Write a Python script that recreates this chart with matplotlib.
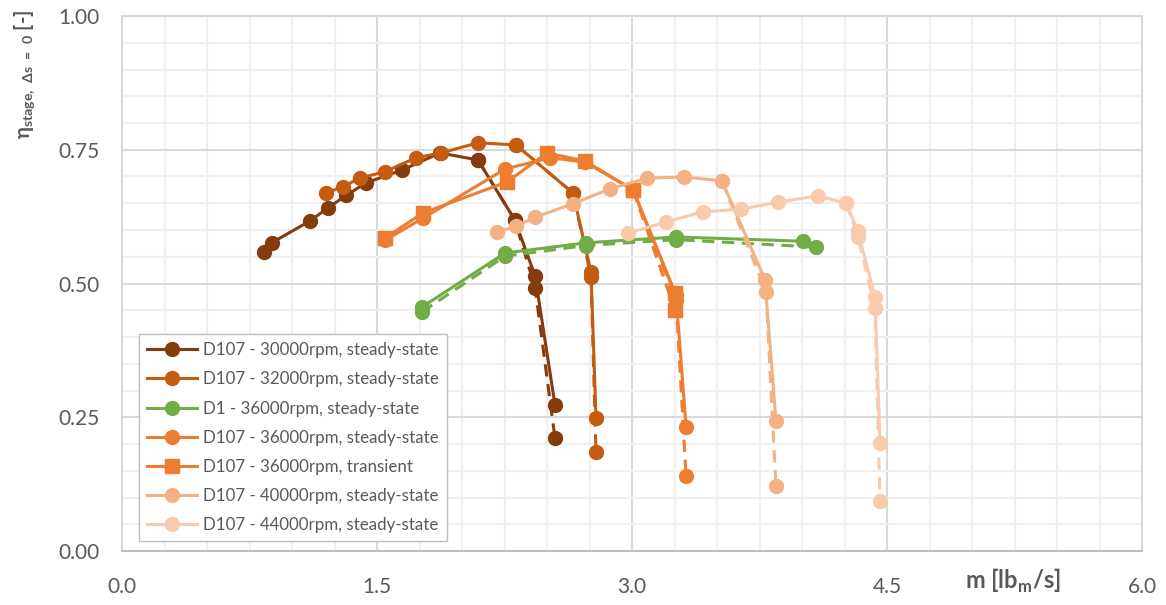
import numpy as np
import matplotlib
matplotlib.use("Agg")
import matplotlib.pyplot as plt

plt.rcParams['font.family'] = ['Lato', 'DejaVu Sans']
plt.rcParams['mathtext.fontset'] = 'custom'
plt.rcParams['mathtext.rm'] = 'Lato'
plt.rcParams['mathtext.bf'] = 'Lato:bold'

# D107 - 30000rpm
m_30 = [0.835, 0.88, 1.106, 1.21, 1.32, 1.435, 1.647, 1.87, 2.094, 2.31, 2.43, 2.547]
eta_30 = [0.559, 0.576, 0.617, 0.641, 0.665, 0.688, 0.712, 0.744, 0.731, 0.619, 0.514, 0.273]
m_30_d = [2.094, 2.31, 2.43, 2.547]
eta_30_d = [0.731, 0.619, 0.492, 0.211]

# D107 - 32000rpm
m_32 = [1.2, 1.3, 1.4, 1.547, 1.729, 1.876, 2.094, 2.318, 2.653, 2.759, 2.788]
eta_32 = [0.669, 0.681, 0.697, 0.709, 0.735, 0.744, 0.763, 0.759, 0.669, 0.521, 0.249]
m_32_d = [2.318, 2.653, 2.759, 2.788]
eta_32_d = [0.759, 0.669, 0.512, 0.185]

# D1 - 36000rpm
m_d1 = [1.765, 2.253, 2.729, 3.259, 4.006]
eta_d1 = [0.456, 0.557, 0.576, 0.587, 0.579]
m_d1_d = [1.765, 2.253, 2.729, 3.259, 4.082]
eta_d1_d = [0.447, 0.551, 0.571, 0.582, 0.568]

# D107 - 36000rpm steady-state
m_36 = [1.547, 1.771, 2.253, 2.518, 2.724, 3.006, 3.259, 3.318]
eta_36 = [0.581, 0.622, 0.714, 0.735, 0.727, 0.675, 0.478, 0.232]
m_36_d = [3.006, 3.259, 3.318]
eta_36_d = [0.675, 0.469, 0.140]

# D107 - 36000rpm transient
m_36t = [1.547, 1.771, 2.265, 2.5, 2.724, 3.006, 3.253]
eta_36t = [0.585, 0.632, 0.690, 0.744, 0.729, 0.675, 0.482]
m_36t_d = [3.006, 3.253]
eta_36t_d = [0.675, 0.450]

# D107 - 40000rpm
m_40 = [2.206, 2.318, 2.43, 2.653, 2.871, 3.088, 3.306, 3.529, 3.782, 3.847]
eta_40 = [0.596, 0.607, 0.624, 0.649, 0.677, 0.697, 0.699, 0.692, 0.507, 0.243]
m_40_d = [3.529, 3.788, 3.847]
eta_40_d = [0.692, 0.484, 0.121]

# D107 - 44000rpm
m_44 = [2.976, 3.2, 3.418, 3.641, 3.859, 4.094, 4.259, 4.329, 4.429, 4.459]
eta_44 = [0.594, 0.615, 0.634, 0.639, 0.652, 0.664, 0.650, 0.598, 0.475, 0.202]
m_44_d = [4.259, 4.329, 4.429, 4.459]
eta_44_d = [0.650, 0.587, 0.454, 0.093]

series = [
    ("D107 - 30000rpm, steady-state", m_30, eta_30, m_30_d, eta_30_d, '#843C0C', 'o'),
    ("D107 - 32000rpm, steady-state", m_32, eta_32, m_32_d, eta_32_d, '#C55A11', 'o'),
    ("D1 - 36000rpm, steady-state", m_d1, eta_d1, m_d1_d, eta_d1_d, '#70AD47', 'o'),
    ("D107 - 36000rpm, steady-state", m_36, eta_36, m_36_d, eta_36_d, '#ED7D31', 'o'),
    ("D107 - 36000rpm, transient", m_36t, eta_36t, m_36t_d, eta_36t_d, '#ED7D31', 's'),
    ("D107 - 40000rpm, steady-state", m_40, eta_40, m_40_d, eta_40_d, '#F4B183', 'o'),
    ("D107 - 44000rpm, steady-state", m_44, eta_44, m_44_d, eta_44_d, '#F8CBAD', 'o'),
]

fig = plt.figure(figsize=(11.66, 6.05), dpi=100)
ax = fig.add_axes([122/1166, 54/605, 1020/1166, 535/605])

handles = []
for name, x, y, xd, yd, c, mk in series:
    ms = 10 if mk == 'o' else 9.5
    ax.plot(xd, yd, color=c, lw=2.2, ls=(0, (4, 2.5)), marker=mk, ms=ms, zorder=3)
    h, = ax.plot(x, y, color=c, lw=2.2, marker=mk, ms=ms, label=name, zorder=3)
    handles.append(h)

ax.set_xlim(0, 6)
ax.set_ylim(0, 1)
ax.set_xticks(np.arange(0, 6.01, 1.5))
ax.set_xticks(np.arange(0, 6.01, 0.25), minor=True)
ax.set_yticks(np.arange(0, 1.01, 0.25))
ax.set_yticks(np.arange(0, 1.01, 0.05), minor=True)
ax.set_xticklabels(['%.1f' % v for v in np.arange(0, 6.01, 1.5)])
ax.set_yticklabels(['%.2f' % v for v in np.arange(0, 1.01, 0.25)])
ax.grid(which='major', color='#D9D9D9', lw=1.5, zorder=0)
ax.grid(which='minor', color='#F0F0F0', lw=1.5, zorder=0)
ax.set_axisbelow(True)
ax.tick_params(which='both', length=0, labelsize=15, labelcolor='#595959')
ax.tick_params(axis='x', pad=19)
ax.tick_params(axis='y', pad=16)
for s in ax.spines.values():
    s.set_color('#D9D9D9')
    s.set_linewidth(1.5)
ax.spines['bottom'].set_color('#BFBFBF')

leg = ax.legend(handles=handles, loc='lower left', bbox_to_anchor=(0.0167, 0.0187),
                borderaxespad=0, fontsize=12.2, handlelength=3.0, labelspacing=0.78,
                fancybox=False, framealpha=1, edgecolor='#BFBFBF', borderpad=0.45,
                handletextpad=0.35)
for t in leg.get_texts():
    t.set_color('#595959')

fig.text(1013/1166, 1 - 581/605, r'm [lb$_\mathbf{m}$/s]', ha='center', va='center',
         fontsize=17, fontweight='bold', color='#595959')
fig.text(25/1166, 1 - 74/605, r'η$_\mathbf{stage,\ Δs\ =\ 0}$ [-]', ha='center', va='center',
         rotation=90, fontsize=14.5, fontweight='bold', color='#595959')

fig.savefig('out.png', dpi=100)
